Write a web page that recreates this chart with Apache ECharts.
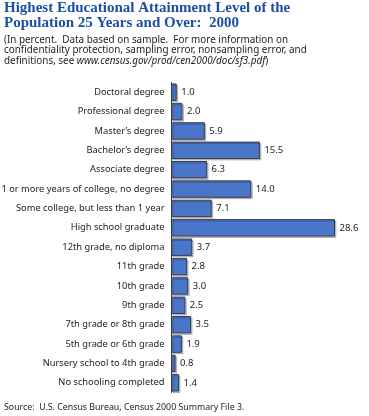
<!DOCTYPE html>
<html><head><meta charset="utf-8">
<script src="https://cdn.jsdelivr.net/npm/echarts@6/dist/echarts.min.js"></script>
<style>html,body{margin:0;padding:0;background:#fff}#c{width:369px;height:416px}</style>
</head><body><div id="c"></div>
<script>
const categories = ["Doctoral degree","Professional degree","Master’s degree","Bachelor’s degree","Associate degree","1 or more years of college, no degree","Some college, but less than 1 year","High school graduate","12th grade, no diploma","11th grade","10th grade","9th grade","7th grade or 8th grade","5th grade or 6th grade","Nursery school to 4th grade","No schooling completed"];
const values = [1.0,2.0,5.9,15.5,6.3,14.0,7.1,28.6,3.7,2.8,3.0,2.5,3.5,1.9,0.8,1.4];
const titleLines = ["Highest Educational Attainment Level of the","Population 25 Years and Over:  2000"];
const noteLines = ["(In percent.  Data based on sample.  For more information on","confidentiality protection, sampling error, nonsampling error, and","definitions, see {i|www.census.gov/prod/cen2000/doc/sf3.pdf})"];
const sourceText = "Source:  U.S. Census Bureau, Census 2000 Summary File 3.";
const xMax = 30;

const FONT = 'Noto Sans';
const chart = echarts.init(document.getElementById('c'), null, {renderer:'canvas'});
chart.setOption({
  animation:false,
  title:[
    {text:titleLines.join('\n'), left:4, top:1, padding:0, textStyle:{fontFamily:'Liberation Serif', fontWeight:'bold', fontSize:15, color:'#1c4fa3', lineHeight:14.5}},
    {text:noteLines.join('\n'), left:4, top:34.5, padding:0, textStyle:{fontFamily:FONT, fontWeight:'normal', fontSize:9.9, color:'#222', lineHeight:10.5, rich:{i:{fontStyle:'italic', fontFamily:FONT, fontSize:9.9, color:'#222'}}}},
    {text:sourceText, left:4, top:402.5, padding:0, textStyle:{fontFamily:FONT, fontWeight:'normal', fontSize:8.8, color:'#222'}}
  ],
  grid:{left:171, right:369-171-xMax*5.734, top:82.5, bottom:23.5, containLabel:false, outerBoundsMode:'none'},
  xAxis:{type:'value', min:0, max:xMax, show:false},
  yAxis:{type:'category', data:categories, inverse:true,
    axisLine:{show:true, lineStyle:{color:'#333', width:1}}, axisTick:{show:false},
    axisLabel:{fontFamily:FONT, fontSize:9.3, color:'#222', margin:6.5}},
  series:[{type:'bar', data:values, barCategoryGap:'10%',
    itemStyle:{color:'#4a76c9', borderColor:'#3a3d4a', borderWidth:1, shadowColor:'rgba(0,0,0,0.22)', shadowOffsetX:1.5, shadowOffsetY:1.5, shadowBlur:0},
    label:{show:true, position:'right', distance:4.5, formatter:p=>p.value.toFixed(1), fontFamily:FONT, fontSize:9.5, color:'#222'}}]
});
</script></body></html>
